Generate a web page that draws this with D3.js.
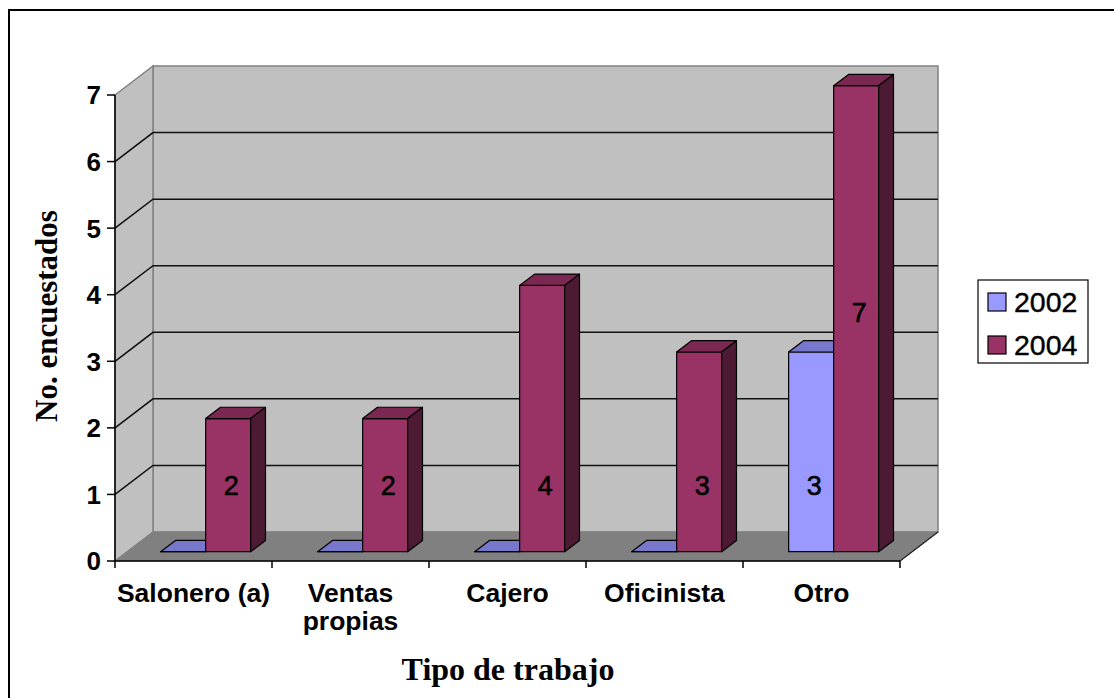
<!DOCTYPE html>
<html>
<head>
<meta charset="utf-8">
<script src="https://cdn.jsdelivr.net/npm/d3@7"></script>
<style>
  body { margin: 0; background: #fff; }
  svg { display: block; }
</style>
</head>
<body>
<script>
'use strict';

// chart data
const categories = ["Salonero (a)", "Ventas propias", "Cajero", "Oficinista", "Otro"];
const series = ["2002", "2004"];
const values2002 = [0, 0, 0, 0, 3];
const values2004 = [2, 2, 4, 3, 7];
const yTicks = [0, 1, 2, 3, 4, 5, 6, 7];

const colors = {
  "2002": { front: "#9999ff", top: "#7777cc", side: "#5c5c99" },
  "2004": { front: "#993366", top: "#7a2852", side: "#4d1a33" }
};

const W = 1114, H = 698;
const DX = 38, DY = 29;       // depth offset of the back wall
const Z0 = 0.32, Z1 = 0.71;   // bar depth range

const svg = d3.select("body").append("svg")
  .attr("width", W).attr("height", H);

svg.append("rect").attr("width", W).attr("height", H).attr("fill", "#fff");

// outer frame (runs off the right/bottom edge)
svg.append("rect")
  .attr("x", 9).attr("y", 10).attr("width", W + 20).attr("height", H + 20)
  .attr("fill", "none").attr("stroke", "#000").attr("stroke-width", 2);

const x = d3.scaleBand().domain(categories).range([115, 900]);
const xSub = d3.scaleBand().domain(series).range([0, x.bandwidth()])
  .paddingInner(0).paddingOuter(0.744);
const y = d3.scaleLinear().domain([0, 7]).range([561, 95]);

// project a point: front-plane x, value, depth (0 front .. 1 back)
function proj(px, v, z) {
  return [px + z * DX, y(v) - z * DY];
}
function poly(pts) {
  return "M" + pts.map(p => p.join(",")).join("L") + "Z";
}

const x0 = x.range()[0], x1 = x.range()[1];
const vMax = y.domain()[1];

// back wall
svg.append("path")
  .attr("d", poly([proj(x0, 0, 1), proj(x0, vMax, 1), proj(x1, vMax, 1), proj(x1, 0, 1)]))
  .attr("fill", "#c0c0c0").attr("stroke", "#808080").attr("stroke-width", 1.5);

// left wall
svg.append("path")
  .attr("d", poly([proj(x0, 0, 0), proj(x0, vMax, 0), proj(x0, vMax, 1), proj(x0, 0, 1)]))
  .attr("fill", "#c0c0c0").attr("stroke", "#808080").attr("stroke-width", 1.5);

// gridlines on back and left walls
const grid = svg.append("g").attr("stroke", "#111").attr("stroke-width", 1.5).attr("fill", "none");
yTicks.filter(t => t > 0 && t < vMax).forEach(t => {
  grid.append("path").attr("d", "M" + proj(x0, t, 0) + "L" + proj(x0, t, 1) + "L" + proj(x1, t, 1));
});

// floor
svg.append("path")
  .attr("d", poly([proj(x0, 0, 0), proj(x1, 0, 0), proj(x1, 0, 1), proj(x0, 0, 1)]))
  .attr("fill", "#808080").attr("stroke", "#808080").attr("stroke-width", 1);
svg.append("path")
  .attr("d", "M" + proj(x1, 0, 0) + "L" + proj(x1, 0, 1))
  .attr("stroke", "#222").attr("stroke-width", 1.2).attr("fill", "none");

// axes lines and ticks
const axis = svg.append("g").attr("stroke", "#000").attr("stroke-width", 1.5).attr("fill", "none");
axis.append("line").attr("x1", x0).attr("x2", x0).attr("y1", y(0)).attr("y2", y(vMax));
axis.append("line").attr("x1", x0).attr("x2", x1).attr("y1", y(0)).attr("y2", y(0));
yTicks.forEach(t => {
  axis.append("line").attr("x1", x0 - 8).attr("x2", x0).attr("y1", y(t)).attr("y2", y(t));
});
categories.concat([null]).forEach((c, i) => {
  const tx = c === null ? x1 : x(c);
  axis.append("line").attr("x1", tx).attr("x2", tx).attr("y1", y(0)).attr("y2", y(0) + 7);
});

// y tick labels
svg.append("g").selectAll("text").data(yTicks).join("text")
  .attr("x", 101).attr("y", d => y(d))
  .attr("dy", "0.36em")
  .attr("text-anchor", "end")
  .style("font-family", "Arial, 'Liberation Sans', sans-serif")
  .style("font-weight", "bold").style("font-size", "26px")
  .text(d => d);

// x category labels (wrap on space where needed)
const catG = svg.append("g")
  .style("font-family", "Arial, 'Liberation Sans', sans-serif")
  .style("font-weight", "bold").style("font-size", "26.5px")
  .attr("text-anchor", "middle");
categories.forEach(c => {
  const lines = c === "Ventas propias" ? ["Ventas", "propias"] : [c];
  const t = catG.append("text").attr("x", x(c) + x.bandwidth() / 2).attr("y", 602);
  lines.forEach((l, i) => {
    t.append("tspan").attr("x", x(c) + x.bandwidth() / 2).attr("dy", i === 0 ? 0 : 28).text(l);
  });
});

// bars
const rows = categories.map((c, i) => ({ cat: c, "2002": values2002[i], "2004": values2004[i] }));
const barG = svg.append("g").attr("stroke", "#000").attr("stroke-width", 1.2).attr("stroke-linejoin", "round");
rows.forEach(r => {
  series.forEach(s => {
    const v = r[s];
    const bx0 = x(r.cat) + xSub(s);
    const bx1 = bx0 + xSub.bandwidth();
    const col = colors[s];
    // front face
    barG.append("path")
      .attr("d", poly([proj(bx0, 0, Z0), proj(bx0, v, Z0), proj(bx1, v, Z0), proj(bx1, 0, Z0)]))
      .attr("fill", col.front);
    // top face
    barG.append("path")
      .attr("d", poly([proj(bx0, v, Z0), proj(bx1, v, Z0), proj(bx1, v, Z1), proj(bx0, v, Z1)]))
      .attr("fill", col.top);
    // right side face
    if (v > 0) {
      barG.append("path")
        .attr("d", poly([proj(bx1, 0, Z0), proj(bx1, v, Z0), proj(bx1, v, Z1), proj(bx1, 0, Z1)]))
        .attr("fill", col.side);
    }
  });
});

// data labels (zero values not labelled)
const labG = svg.append("g")
  .style("font-family", "Arial, 'Liberation Sans', sans-serif")
  .style("font-size", "27px")
  .attr("text-anchor", "middle")
  .attr("stroke", "#000").attr("stroke-width", 0.6);
rows.forEach(r => {
  series.forEach(s => {
    const v = r[s];
    if (!v) return;
    const cx = x(r.cat) + xSub(s) + xSub.bandwidth() / 2 + 3;
    const anchor = Math.max(1, (v - 4) * 1.2);
    const p = proj(cx, anchor, Z0);
    labG.append("text").attr("x", p[0]).attr("y", p[1]).attr("dy", "0.36em").text(v);
  });
});

// axis titles
svg.append("text")
  .attr("x", 508).attr("y", 680)
  .attr("text-anchor", "middle")
  .style("font-family", "'Times New Roman', 'Liberation Serif', serif")
  .style("font-weight", "bold").style("font-size", "32px")
  .text("Tipo de trabajo");

svg.append("text")
  .attr("transform", "translate(57, 316) rotate(-90)")
  .attr("text-anchor", "middle")
  .style("font-family", "'Times New Roman', 'Liberation Serif', serif")
  .style("font-weight", "bold").style("font-size", "31px")
  .text("No. encuestados");

// legend
const leg = svg.append("g");
leg.append("rect")
  .attr("x", 978).attr("y", 280).attr("width", 110).attr("height", 83)
  .attr("fill", "#fff").attr("stroke", "#000").attr("stroke-width", 1.2);
series.forEach((s, i) => {
  leg.append("rect")
    .attr("x", 988).attr("y", 293 + i * 43).attr("width", 18).attr("height", 18)
    .attr("fill", colors[s].front).attr("stroke", "#000").attr("stroke-width", 1.2);
  leg.append("text")
    .attr("x", 1014).attr("y", 302 + i * 43).attr("dy", "0.36em")
    .attr("stroke", "#000").attr("stroke-width", 0.4)
    .style("font-family", "Arial, 'Liberation Sans', sans-serif")
    .style("font-size", "28.5px")
    .text(s);
});
</script>
</body>
</html>
